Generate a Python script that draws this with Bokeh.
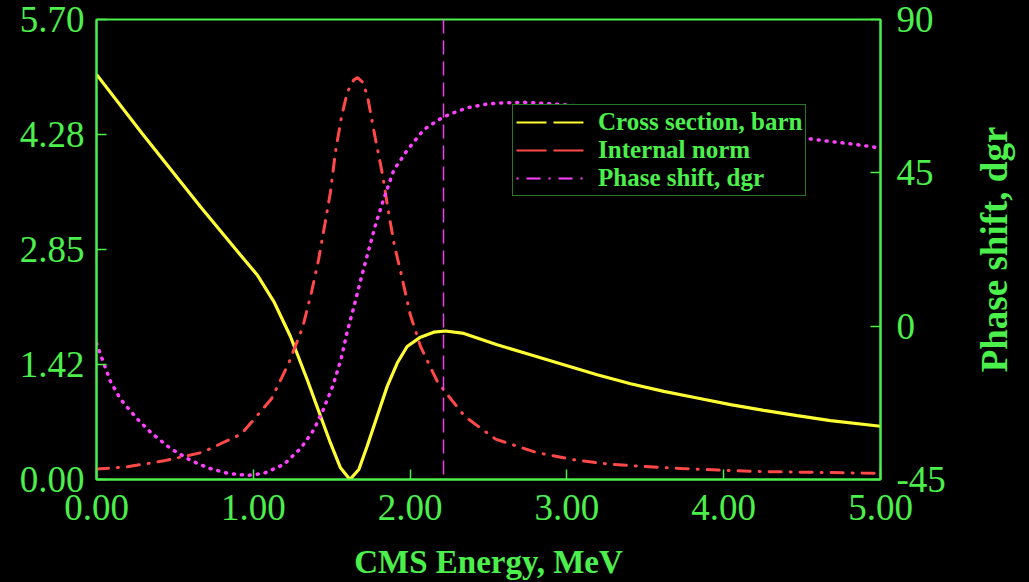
import math
from bokeh.plotting import figure
from bokeh.layouts import row
from bokeh.models import (Range1d, LinearAxis, FixedTicker, Span, Legend, LegendItem)
from bokeh.core.properties import value
from bokeh.embed import file_html
from bokeh.resources import INLINE

# ---- data ----
cs_energy = [0.0, 0.291, 0.663, 0.918, 1.025, 1.131, 1.237, 1.344, 1.429, 1.492, 1.556,
             1.616, 1.673, 1.726, 1.79, 1.854, 1.918, 1.981, 2.066, 2.151, 2.226,
             2.343, 2.555, 2.768, 2.98, 3.193, 3.406, 3.618, 3.831, 4.043, 4.256,
             4.469, 4.681, 5.0]
cs_barn = [5.02, 4.287, 3.379, 2.782, 2.535, 2.205, 1.772, 1.236, 0.783, 0.453, 0.145,
           0.0, 0.124, 0.412, 0.783, 1.154, 1.443, 1.648, 1.764, 1.826, 1.84,
           1.81, 1.669, 1.546, 1.422, 1.298, 1.187, 1.092, 1.01, 0.927, 0.857,
           0.791, 0.729, 0.66]

norm_energy = [0.0, 0.196, 0.44, 0.676, 0.925, 1.116, 1.224, 1.314, 1.371, 1.416, 1.457,
               1.492, 1.524, 1.563, 1.60, 1.64, 1.665, 1.70, 1.73, 1.777, 1.824, 1.859,
               1.90, 1.943, 2.0, 2.066, 2.177, 2.35, 2.545, 2.806, 3.036, 3.27, 3.498,
               3.73, 3.964, 4.193, 4.42, 4.655, 4.885, 5.0]
norm_value = [0.13, 0.157, 0.235, 0.337, 0.565, 1.0, 1.434, 1.88, 2.32, 2.72, 3.17,
              3.56, 4.06, 4.50, 4.80, 4.95, 4.98, 4.92, 4.73, 4.24, 3.78, 3.35,
              2.9, 2.55, 2.05, 1.65, 1.2, 0.78, 0.50, 0.334, 0.247, 0.19, 0.16,
              0.136, 0.117, 0.10, 0.093, 0.087, 0.08, 0.078]

phase_energy = [0.0, 0.047, 0.089, 0.153, 0.255, 0.351, 0.472, 0.6, 0.712, 0.838, 0.965,
                1.067, 1.195, 1.305, 1.386, 1.446, 1.51, 1.561, 1.599, 1.645, 1.688,
                1.733, 1.779, 1.833, 1.896, 1.981, 2.088, 2.183, 2.247, 2.364, 2.492,
                2.577, 2.725, 2.853, 2.98, 3.13, 3.257, 3.385, 3.6, 3.8, 4.0, 4.2, 4.4,
                4.575, 4.70, 4.83, 5.0]
phase_dgr = [-5.0, -11.0, -16.2, -21.4, -27.0, -31.4, -35.9, -39.4, -41.6, -43.2, -43.8,
             -43.2, -40.6, -35.7, -30.4, -24.5, -17.2, -9.4, -1.6, 6.25, 14.1,
             21.85, 29.7, 37.5, 45.8, 51.6, 57.7, 60.6, 62.1, 64.1, 65.2,
             65.5, 65.7, 65.4, 65.0, 64.3, 63.5, 62.8, 61.5, 60.1, 58.7, 57.3, 56.0,
             54.8, 54.1, 53.4, 52.3]

marker_energy = 2.213

x_ticks = [0.0, 1.0, 2.0, 3.0, 4.0, 5.0]
x_tick_labels = ["0.00", "1.00", "2.00", "3.00", "4.00", "5.00"]
y_ticks = [0.0, 1.425, 2.85, 4.275, 5.70]
y_tick_labels = ["0.00", "1.42", "2.85", "4.28", "5.70"]
phase_ticks = [-45, 0, 45, 90]
phase_tick_labels = ["-45", "0", "45", "90"]

series_labels = ["Cross section, barn", "Internal norm", "Phase shift, dgr"]
x_title = "CMS Energy, MeV"
y2_title = "Phase shift, dgr"

GREEN = "#4cf04c"
YELLOW = "#ffff33"
RED = "#ff4848"
MAGENTA = "#ff40ff"
SERIF = "Liberation Serif"

# layout sizes (pixels)
W_MAIN, W_SIDE, H = 970, 59, 582
B_LEFT, B_RIGHT, B_TOP, B_BOTTOM = 96, 90, 19, 102

p = figure(width=W_MAIN, height=H, output_backend="svg", toolbar_location=None,
           x_range=Range1d(x_ticks[0], x_ticks[-1]), y_range=Range1d(y_ticks[0], y_ticks[-1]),
           min_border_left=B_LEFT, min_border_right=B_RIGHT, min_border_top=B_TOP,
           min_border_bottom=B_BOTTOM, styles={"background-color": "black"})
p.background_fill_color = "black"
p.border_fill_color = "black"
p.outline_line_color = GREEN
p.outline_line_width = 2
p.grid.visible = False

p.extra_y_ranges = {"phase": Range1d(phase_ticks[0], phase_ticks[-1])}
right_axis = LinearAxis(y_range_name="phase")
p.add_layout(right_axis, "right")

def style_axis(ax, ticks, labels, standoff):
    ax.ticker = FixedTicker(ticks=ticks)
    ax.major_label_overrides = {t: l for t, l in zip(ticks, labels)}
    ax.axis_line_color = GREEN
    ax.axis_line_width = 2
    ax.major_tick_line_color = GREEN
    ax.major_tick_line_width = 1.5
    ax.major_tick_in = 10
    ax.major_tick_out = 0
    ax.minor_tick_line_color = None
    ax.major_label_text_font = SERIF
    ax.major_label_text_font_size = "37px"
    ax.major_label_text_color = GREEN
    ax.major_label_standoff = standoff
    ax.axis_label_text_font = SERIF
    ax.axis_label_text_font_style = "bold"
    ax.axis_label_text_color = GREEN

style_axis(p.xaxis[0], x_ticks, x_tick_labels, 15)
style_axis(p.yaxis[0], y_ticks, y_tick_labels, 12)
style_axis(right_axis, phase_ticks, phase_tick_labels, 16)

p.xaxis[0].axis_label = x_title
p.xaxis[0].axis_label_text_font_size = "33px"
p.xaxis[0].axis_label_standoff = 21

# curves
p.line(cs_energy, cs_barn, line_color=YELLOW, line_width=3.2)
p.line(norm_energy, norm_value, line_color=RED, line_width=3, line_dash="12 9 1 9",
       line_cap="round")
p.line(phase_energy, phase_dgr, y_range_name="phase", line_color=MAGENTA,
       line_width=3.5, line_dash="1 7", line_cap="round")

p.add_layout(Span(location=marker_energy, dimension="height", line_color="#f040f0",
                  line_width=1.5, line_dash="14 7"))

# legend sample glyphs (not drawn in the plot, only in the legend)
nan = [float("nan")]
lg1 = p.line(nan, nan, line_color=YELLOW, line_width=2, line_dash="30 7")
lg2 = p.line(nan, nan, line_color=RED, line_width=2, line_dash="30 7")
lg3 = p.line(nan, nan, line_color=MAGENTA, line_width=2, line_dash="2 8 14 8")

legend = Legend(items=[LegendItem(label=series_labels[0], renderers=[lg1]),
                       LegendItem(label=series_labels[1], renderers=[lg2]),
                       LegendItem(label=series_labels[2], renderers=[lg3])],
                location=(416, 283))
legend.border_line_color = GREEN
legend.border_line_width = 1.5
legend.background_fill_color = "black"
legend.background_fill_alpha = 1.0
legend.label_text_font = SERIF
legend.label_text_font_style = "bold"
legend.label_text_font_size = "25px"
legend.label_text_color = GREEN
legend.glyph_width = 70
legend.glyph_height = 20
legend.label_standoff = 12
legend.padding = 3
legend.spacing = 0
legend.margin = 0
legend.label_height = 20
p.add_layout(legend, "center")

# narrow side panel carrying the right-hand axis title (reads bottom-to-top)
side = figure(width=W_SIDE, height=H, output_backend="svg", toolbar_location=None,
              x_range=Range1d(0, W_SIDE), y_range=p.y_range,
              x_axis_location=None, y_axis_location=None,
              min_border_left=0, min_border_right=0, min_border_top=0, min_border_bottom=0,
              styles={"background-color": "black"})
side.background_fill_color = "black"
side.border_fill_color = "black"
side.outline_line_color = None
side.grid.visible = False
side.text(x=[24], y=[(y_ticks[0] + y_ticks[-1]) / 2], text=[y2_title], angle=math.pi / 2,
          text_align="center", text_baseline="alphabetic",
          text_font=value(SERIF), text_font_style="bold", text_font_size="37px",
          text_color=GREEN)

layout = row(p, side, spacing=0, styles={"background-color": "black"})
html = file_html(layout, INLINE)
html = html.replace("<body>", '<body style="margin:0;background-color:#000000">', 1)
open("out.html", "w").write(html)
